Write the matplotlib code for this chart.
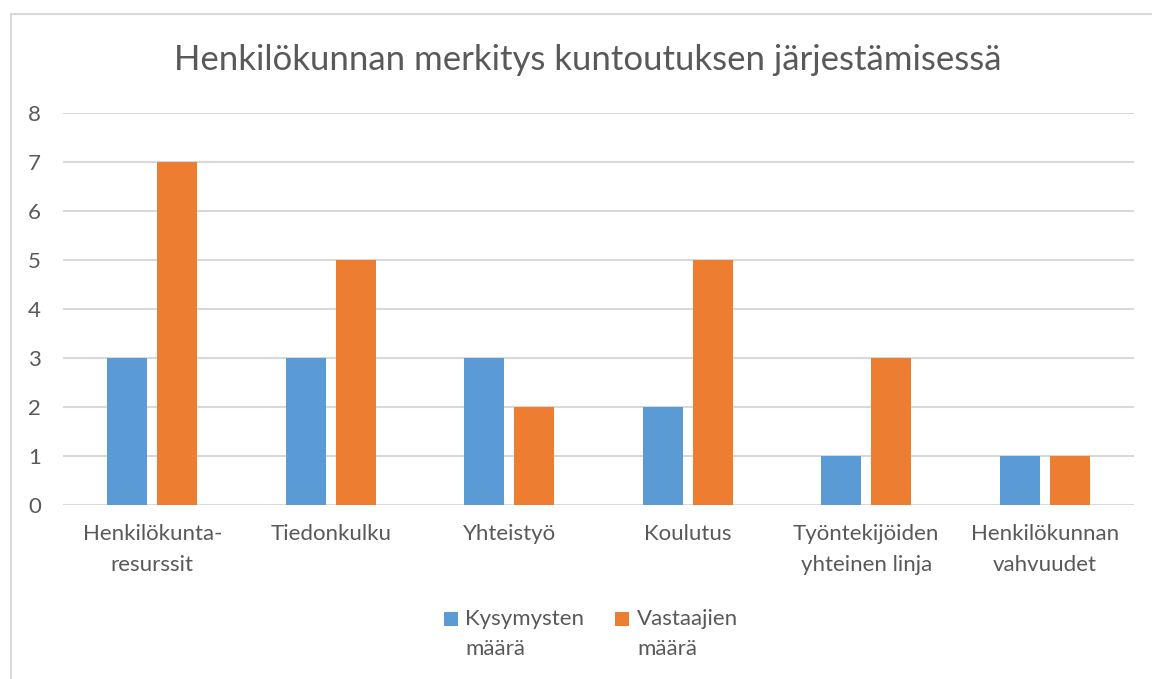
import numpy as np
import matplotlib.pyplot as plt
from matplotlib.patches import Rectangle
from matplotlib.container import BarContainer
from matplotlib.legend_handler import HandlerPatch

categories = ["Henkilökunta-\nresurssit", "Tiedonkulku", "Yhteistyö", "Koulutus",
              "Työntekijöiden\nyhteinen linja", "Henkilökunnan\nvahvuudet"]
kysymysten = [3, 3, 3, 2, 1, 1]
vastaajien = [7, 5, 2, 5, 3, 1]
series_labels = ["Kysymysten\nmäärä", "Vastaajien\nmäärä"]
title = "Henkilökunnan merkitys kuntoutuksen järjestämisessä"

plt.rcParams['font.family'] = ['Lato', 'DejaVu Sans']
text_col = '#595959'
grid_col = '#D9D9D9'

fig = plt.figure(figsize=(11.52, 6.79), dpi=100)
ax = fig.add_axes([63/1152, 1 - 505/679, (1134 - 63)/1152, (505 - 113)/679])

# chart frame (Excel style border)
fig.patches.append(Rectangle((11/1152, -0.1), 1.2, 1 - 14/679 + 0.1, transform=fig.transFigure,
                             fill=False, edgecolor=grid_col, linewidth=1.5))

x = np.arange(len(categories))
w = 0.224
gap = 0.056
ax.bar(x - (w + gap) / 2, kysymysten, w, color='#5B9BD5', label=series_labels[0], zorder=3)
ax.bar(x + (w + gap) / 2, vastaajien, w, color='#ED7D31', label=series_labels[1], zorder=3)

ax.set_xlim(-0.5, len(categories) - 0.5)
ax.set_ylim(0, 8)
ax.set_yticks(range(0, 9))
ax.grid(axis='y', color=grid_col, linewidth=1.5, zorder=0)
for s in ax.spines.values():
    s.set_visible(False)
ax.tick_params(length=0, colors=text_col, labelsize=16)
ax.tick_params(axis='y', pad=16)
ax.tick_params(axis='x', pad=14)
ax.set_xticks(x)
ax.set_xticklabels(categories, linespacing=1.65)

fig.text(588/1152, 1 - 60/679, title, ha='center', va='center', fontsize=25, color=text_col)


# square legend marker aligned with the first text line
def top_square(legend, orig_handle, xdescent, ydescent, width, height, fontsize):
    side = width
    return Rectangle((-xdescent, -ydescent + height - side + 0.16 * fontsize), side, side)


def first_child(legend_handle, orig_handle):
    legend_handle.update_from(orig_handle[0])


leg = fig.legend(loc='center', bbox_to_anchor=(591/1152, 1 - 634/679), ncol=2, frameon=False,
                 fontsize=16, handlelength=0.62, handleheight=2.3, handletextpad=0.35,
                 columnspacing=1.4, labelcolor=text_col,
                 handler_map={BarContainer: HandlerPatch(patch_func=top_square,
                                                         update_func=first_child)})
for t in leg.get_texts():
    t.set_linespacing(1.6)

fig.savefig('out.png', dpi=100)
